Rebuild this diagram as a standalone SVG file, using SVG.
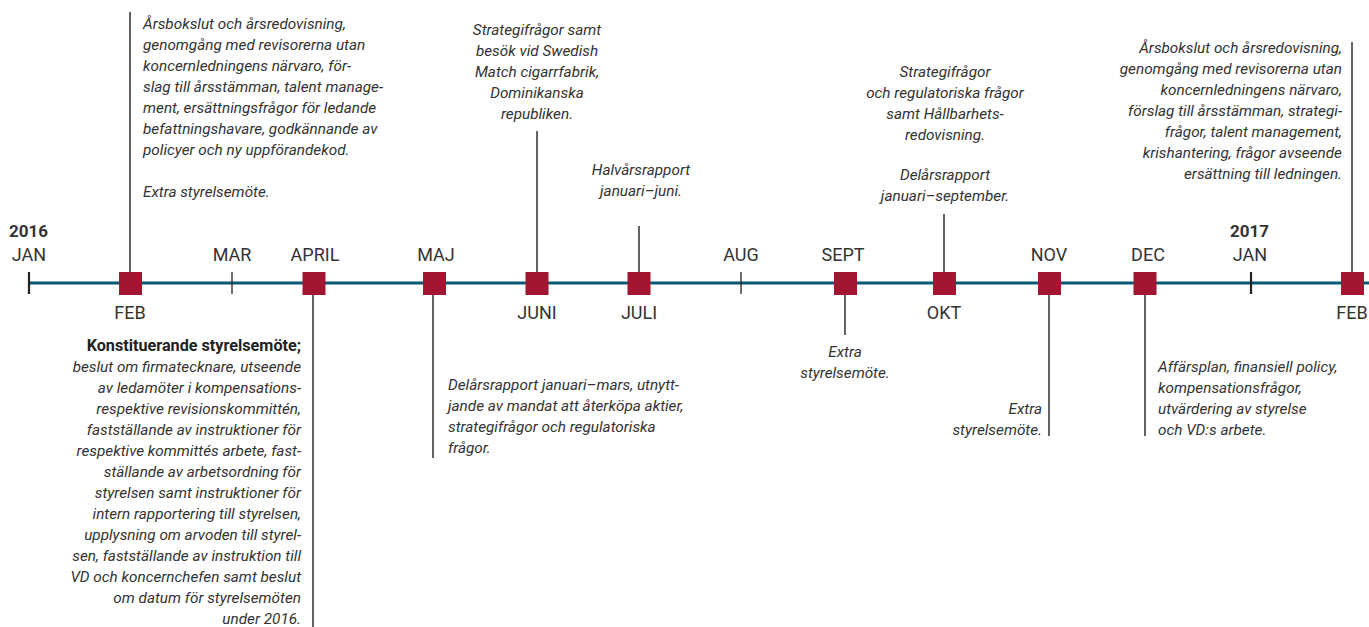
<svg xmlns="http://www.w3.org/2000/svg" width="1369" height="627" viewBox="0 0 1369 627">
<style>
.bg{fill:#fff}
.t{font-family:Roboto,"Liberation Sans",sans-serif;font-style:italic;font-size:15.3px;fill:#333}
.b{font-family:Roboto,"Liberation Sans",sans-serif;font-weight:bold;font-size:16.2px;fill:#222}
.m{font-family:Roboto,"Liberation Sans",sans-serif;font-size:18px;fill:#333;text-anchor:middle}
.y{font-family:Roboto,"Liberation Sans",sans-serif;font-weight:bold;font-size:17px;fill:#333}
.c{stroke:#222;stroke-width:1.4;fill:none}
.tk{stroke:#222;fill:none}
.sq{fill:#a31632}
.l{text-anchor:start}.r{text-anchor:end}.mid{text-anchor:middle}
</style>
<rect class="bg" x="0" y="0" width="1369" height="627"/>
<g id="timeline">
<line x1="29" y1="283" x2="1369" y2="283" stroke="#0b5876" stroke-width="3"/>
<line class="tk" x1="29" y1="272" x2="29" y2="294" stroke-width="2.2"/>
<line class="tk" x1="232" y1="272" x2="232" y2="294" stroke-width="1.3"/>
<line class="tk" x1="741" y1="272" x2="741" y2="294" stroke-width="1.3"/>
<line class="tk" x1="1251" y1="272" x2="1251" y2="294" stroke-width="2.2"/>
<text class="y" x="9" y="237">2016</text>
<text class="y" x="1230" y="237">2017</text>
<text class="m" x="29" y="261">JAN</text>
<text class="m" x="232" y="261">MAR</text>
<text class="m" x="315" y="261">APRIL</text>
<text class="m" x="436" y="261">MAJ</text>
<text class="m" x="741" y="261">AUG</text>
<text class="m" x="843" y="261">SEPT</text>
<text class="m" x="1049" y="261">NOV</text>
<text class="m" x="1148" y="261">DEC</text>
<text class="m" x="1250" y="261">JAN</text>
<text class="m" x="130" y="319">FEB</text>
<text class="m" x="537" y="319">JUNI</text>
<text class="m" x="639" y="319">JULI</text>
<text class="m" x="944" y="319">OKT</text>
<text class="m" x="1352" y="319">FEB</text>
</g>
<g id="connectors">
<line class="c" x1="130" y1="12" x2="130" y2="272"/>
<line class="c" x1="313" y1="295" x2="313" y2="627"/>
<line class="c" x1="433" y1="295" x2="433" y2="458"/>
<line class="c" x1="537" y1="131" x2="537" y2="272"/>
<line class="c" x1="639" y1="226" x2="639" y2="272"/>
<line class="c" x1="845" y1="295" x2="845" y2="335"/>
<line class="c" x1="944" y1="214" x2="944" y2="272"/>
<line class="c" x1="1049" y1="295" x2="1049" y2="436"/>
<line class="c" x1="1145" y1="295" x2="1145" y2="436"/>
<line class="c" x1="1352" y1="42" x2="1352" y2="272"/>
</g>
<g id="feb2016">
<rect class="sq" x="119" y="272" width="23" height="23"/>
<text class="t l" x="143"><tspan x="143" y="29">Årsbokslut och årsredovisning,</tspan><tspan x="143" y="50">genomgång med revisorerna utan</tspan><tspan x="143" y="71">koncernledningens närvaro, för-</tspan><tspan x="143" y="92">slag till årsstämman, talent manage-</tspan><tspan x="143" y="113">ment, ersättningsfrågor för ledande</tspan><tspan x="143" y="134">befattningshavare, godkännande av</tspan><tspan x="143" y="155">policyer och ny uppförandekod.</tspan><tspan x="143" y="197">Extra styrelsemöte.</tspan></text>
</g>
<g id="april">
<rect class="sq" x="302.5" y="272" width="23" height="23"/>
<text class="b r" x="301" y="351">Konstituerande styrelsemöte;</text>
<text class="t r"><tspan x="301" y="372">beslut om firmatecknare, utseende</tspan><tspan x="301" y="393">av ledamöter i kompensations-</tspan><tspan x="301" y="414">respektive revisionskommittén,</tspan><tspan x="301" y="435">fastställande av instruktioner för</tspan><tspan x="301" y="456">respektive kommittés arbete, fast-</tspan><tspan x="301" y="477">ställande av arbetsordning för</tspan><tspan x="301" y="498">styrelsen samt instruktioner för</tspan><tspan x="301" y="519">intern rapportering till styrelsen,</tspan><tspan x="301" y="540">upplysning om arvoden till styrel-</tspan><tspan x="301" y="561">sen, fastställande av instruktion till</tspan><tspan x="301" y="582">VD och koncernchefen samt beslut</tspan><tspan x="301" y="603">om datum för styrelsemöten</tspan><tspan x="301" y="624">under 2016.</tspan></text>
</g>
<g id="maj">
<rect class="sq" x="423" y="272" width="23" height="23"/>
<text class="t l"><tspan x="448" y="390">Delårsrapport januari–mars, utnytt-</tspan><tspan x="448" y="411">jande av mandat att återköpa aktier,</tspan><tspan x="448" y="432">strategifrågor och regulatoriska</tspan><tspan x="448" y="453">frågor.</tspan></text>
</g>
<g id="juni">
<rect class="sq" x="525.5" y="272" width="23" height="23"/>
<text class="t mid"><tspan x="537" y="35">Strategifrågor samt</tspan><tspan x="537" y="56">besök vid Swedish</tspan><tspan x="537" y="77">Match cigarrfabrik,</tspan><tspan x="537" y="98">Dominikanska</tspan><tspan x="537" y="119">republiken.</tspan></text>
</g>
<g id="juli">
<rect class="sq" x="627.5" y="272" width="23" height="23"/>
<text class="t mid"><tspan x="641" y="175">Halvårsrapport</tspan><tspan x="641" y="196">januari–juni.</tspan></text>
</g>
<g id="sept">
<rect class="sq" x="834" y="272" width="23" height="23"/>
<text class="t mid"><tspan x="845" y="357">Extra</tspan><tspan x="845" y="378">styrelsemöte.</tspan></text>
</g>
<g id="okt">
<rect class="sq" x="933" y="272" width="23" height="23"/>
<text class="t mid"><tspan x="945" y="77">Strategifrågor</tspan><tspan x="945" y="98">och regulatoriska frågor</tspan><tspan x="945" y="119">samt Hållbarhets-</tspan><tspan x="945" y="140">redovisning.</tspan><tspan x="945" y="180">Delårsrapport</tspan><tspan x="945" y="201">januari–september.</tspan></text>
</g>
<g id="nov">
<rect class="sq" x="1038" y="272" width="23" height="23"/>
<text class="t r"><tspan x="1042" y="414">Extra</tspan><tspan x="1042" y="435">styrelsemöte.</tspan></text>
</g>
<g id="dec">
<rect class="sq" x="1133.5" y="272" width="23" height="23"/>
<text class="t l"><tspan x="1158" y="372">Affärsplan, finansiell policy,</tspan><tspan x="1158" y="393">kompensationsfrågor,</tspan><tspan x="1158" y="414">utvärdering av styrelse</tspan><tspan x="1158" y="435">och VD:s arbete.</tspan></text>
</g>
<g id="feb2017">
<rect class="sq" x="1341" y="272" width="23" height="23"/>
<text class="t r"><tspan x="1342" y="53">Årsbokslut och årsredovisning,</tspan><tspan x="1342" y="74">genomgång med revisorerna utan</tspan><tspan x="1342" y="95">koncernledningens närvaro,</tspan><tspan x="1342" y="116">förslag till årsstämman, strategi-</tspan><tspan x="1342" y="137">frågor, talent management,</tspan><tspan x="1342" y="158">krishantering, frågor avseende</tspan><tspan x="1342" y="179">ersättning till ledningen.</tspan></text>
</g>
</svg>
